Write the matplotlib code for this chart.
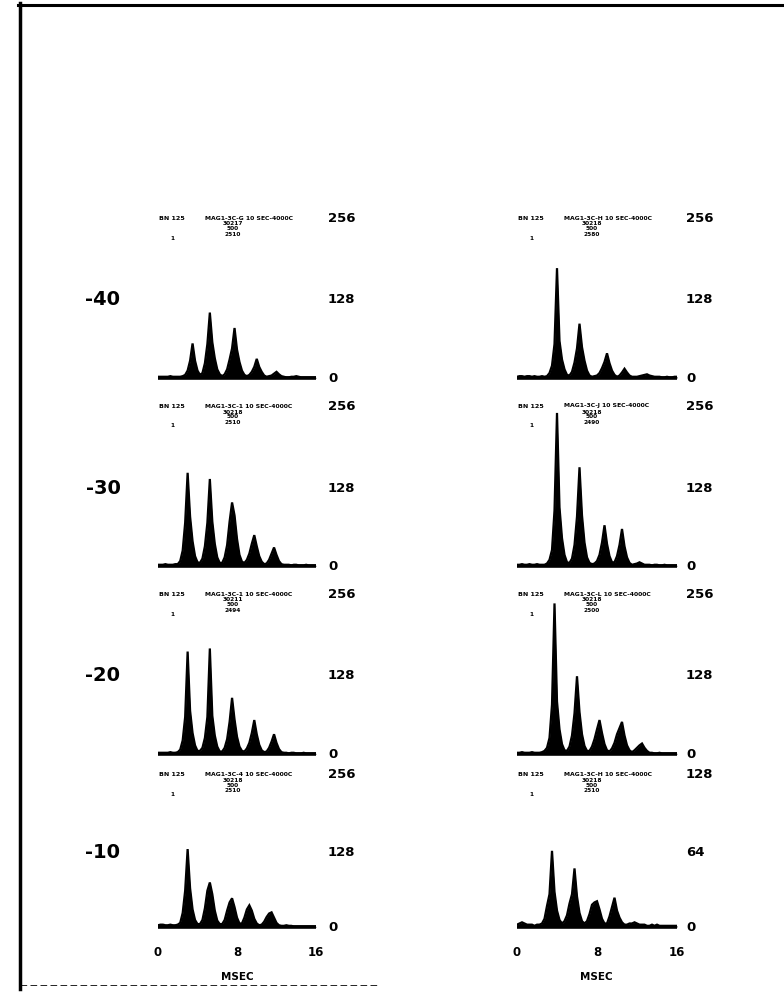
import numpy as np
import matplotlib
matplotlib.use("Agg")
import matplotlib.pyplot as plt
from matplotlib.lines import Line2D

# Post-stimulus time histograms, 0.25 ms bins from 0 to 16 ms
bin_ms = np.arange(65) * 0.25

levels = ["-40", "-30", "-20", "-10"]

left_counts = [
    [2,2,2,2,2,3,2,2,2,2,3, 5,12,28,56,28,12,5, 8,24,55,106,58,32,14,6,
     3,6,14,30,48,81,46,26,12,5, 3,5,10,18,31,18,10,4,
     2,3,4,7,10,6,3,2, 1,1,2,2,3,2,1,1,1,1,1,1,1],
    [2,2,2,3,2,2,2,3,3, 8,25,70,151,80,40,16,6, 5,12,32,70,141,72,36,14,5,
     5,14,34,72,103,82,44,18,7, 5,10,20,36,50,32,16,7,3,
     4,10,20,30,18,8,3, 2,2,2,1,2,2,1,1,1,2,1,1,1,1],
    [2,2,2,2,2,3,2,2,3, 7,22,60,166,70,34,14,5, 5,10,26,60,171,62,30,12,4,
     4,10,24,52,91,56,28,12,5, 4,9,18,34,55,32,15,6,3,
     4,10,20,32,18,8,3, 2,2,1,2,2,1,1,1,2,1,1,1,1,1],
    [3,4,4,3,3,4,3,3,4, 7,24,62,133,66,30,12,5, 5,12,32,62,76,56,28,11,5,
     5,12,28,42,49,34,16,6, 6,16,30,37,28,14,6,3,
     4,9,17,23,25,16,7,3, 2,2,3,2,2,1,1,1,1,1,1,1,1,1,1],
]

right_counts = [
    [2,3,3,2,3,3,2,3,2,2,3,2, 3,8,20,55,178,60,30,14,5, 4,10,25,48,88,50,28,12,4,
     2,3,4,8,16,26,40,24,12,5,2, 4,9,15,9,4,2,
     2,2,3,4,5,6,4,3,2,2, 2,1,1,2,1,1,2,2],
    [2,2,3,2,2,3,2,2,3,2,2,2, 4,10,26,90,248,95,45,18,6, 5,12,34,80,160,82,38,14,5,
     3,4,8,18,38,66,36,16,6, 6,16,34,60,32,14,5,
     2,3,4,6,4,2, 2,2,1,2,2,1,1,2,1,1,1,1,1],
    [2,2,3,2,2,2,3,2,2,2,3, 5,10,26,80,244,85,40,16,6, 5,12,30,66,126,68,32,13,5,
     5,12,24,40,55,34,16,6, 4,9,18,32,42,52,30,14,6,
     3,6,10,14,17,10,5,2, 2,1,1,2,1,1,1,1,1,1,1],
    [2,3,4,3,2,2,2,1,2,2, 3,7,18,28,65,30,14,6, 3,5,10,20,28,50,26,12,5,
     3,5,11,19,21,22,15,7,3, 3,9,17,25,14,8,4,2,
     2,3,3,4,3,2,2, 2,1,1,2,1,2,1,1,1,1,1,1,1,1],
]

left_scale = [256, 256, 256, 256]
right_scale = [256, 256, 256, 128]

left_header = [("BN 125", "MAG1-3C-G 10 SEC-4000C", ["30217", "500", "2510"]),
               ("BN 125", "MAG1-3C-1 10 SEC-4000C", ["30218", "500", "2510"]),
               ("BN 125", "MAG1-3C-1 10 SEC-4000C", ["30211", "500", "2494"]),
               ("BN 125", "MAG1-3C-4 10 SEC-4000C", ["30218", "500", "2510"])]
right_header = [("BN 125", "MAG1-3C-H 10 SEC-4000C", ["30218", "500", "2580"]),
                ("BN 125", "MAG1-3C-J 10 SEC-4000C", ["30218", "500", "2490"]),
                ("BN 125", "MAG1-3C-L 10 SEC-4000C", ["30218", "500", "2500"]),
                ("BN 125", "MAG1-3C-H 10 SEC-4000C", ["30218", "500", "2510"])]

x_ticks = [0, 8, 16]

W, H = 784, 995
fig = plt.figure(figsize=(W / 100, H / 100), dpi=100)
fig.patch.set_facecolor("white")


def fx(px):
    return px / W


def fy(py):
    return 1 - py / H


baselines = [379, 567, 755, 928]
full_px = [158, 158, 158, 150]
columns = [
    dict(x0=158, x1=316, counts=left_counts, scale=left_scale, header=left_header, lab_x=328, mid=237),
    dict(x0=517, x1=677, counts=right_counts, scale=right_scale, header=right_header, lab_x=686, mid=596),
]

bold = dict(fontweight="bold", color="black", family="DejaVu Sans")

for col in columns:
    for r, base in enumerate(baselines):
        fp = full_px[r]
        ax = fig.add_axes([fx(col["x0"]), fy(base), fx(col["x1"] - col["x0"]), fp / H])
        full = col["scale"][r]
        vals = np.array(col["counts"][r], dtype=float)
        ax.fill_between(bin_ms, 0, vals, color="black", linewidth=0)
        ax.plot(bin_ms, vals, color="black", lw=1.6, solid_joinstyle="miter")
        ax.plot([0, 16], [0, 0], color="black", lw=2.6, solid_capstyle="butt", clip_on=False)
        ax.set_xlim(0, 16)
        ax.set_ylim(0, full)
        ax.axis("off")

        # scale labels at the right of each panel
        for v, txt in [(0, "0"), (full / 2, str(full // 2)), (full, str(full))]:
            py = base - fp * v / full
            if v == full:
                py -= 3
            fig.text(fx(col["lab_x"]), fy(py), txt, ha="left", va="center", fontsize=9.5, **bold)

        # recording header above each panel
        h0, h1, stack = col["header"][r]
        hy = base - fp - 3
        fig.text(fx(col["x0"] + 1), fy(hy), h0, ha="left", va="center", fontsize=4.6, **bold)
        fig.text(fx(col["x0"] + 47), fy(hy), h1, ha="left", va="center", fontsize=4.4, **bold)
        for k, s in enumerate(stack):
            fig.text(fx(col["x0"] + 75), fy(hy + 6 + 5 * k), s, ha="center", va="center", fontsize=4.2, **bold)
        fig.text(fx(col["x0"] + 14), fy(hy + 20), "1", ha="center", va="center", fontsize=4.2, **bold)

    # time axis under the last row
    for t in x_ticks:
        px = col["x0"] + (col["x1"] - col["x0"]) * t / 16
        fig.text(fx(px), fy(953), str(t), ha="center", va="center", fontsize=8.5, **bold)
    fig.text(fx(col["mid"]), fy(977), "MSEC", ha="center", va="center", fontsize=7.5, **bold)

# stimulus level labels
for r, base in enumerate(baselines):
    fig.text(fx(103), fy(base - full_px[r] / 2), levels[r], ha="center", va="center", fontsize=14, **bold)

# page border
fig.add_artist(Line2D([fx(20), fx(20)], [fy(4), fy(990)], color="black", lw=2.5))
fig.add_artist(Line2D([fx(18), fx(784)], [fy(6), fy(6)], color="black", lw=2.2))
fig.add_artist(Line2D([fx(20), fx(380)], [fy(986), fy(986)], color="black", lw=0.6, ls=(0, (8, 4))))

fig.savefig("out.png", dpi=100, facecolor="white")
